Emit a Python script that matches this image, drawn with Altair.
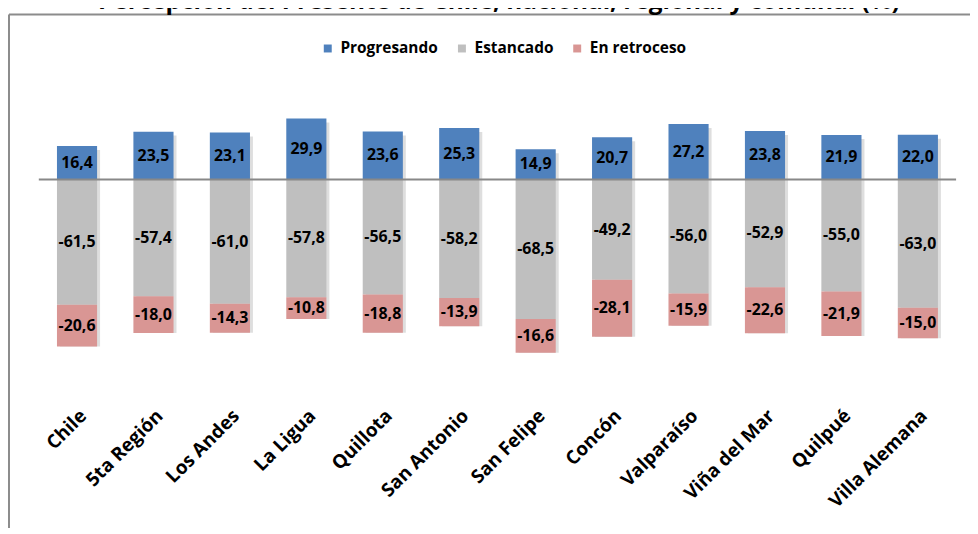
import altair as alt
import pandas as pd

regions = ["Chile", "5ta Región", "Los Andes", "La Ligua", "Quillota", "San Antonio",
           "San Felipe", "Concón", "Valparaíso", "Viña del Mar", "Quilpué", "Villa Alemana"]
progresando = [16.4, 23.5, 23.1, 29.9, 23.6, 25.3, 14.9, 20.7, 27.2, 23.8, 21.9, 22.0]
estancado = [-61.5, -57.4, -61.0, -57.8, -56.5, -58.2, -68.5, -49.2, -56.0, -52.9, -55.0, -63.0]
retroceso = [-20.6, -18.0, -14.3, -10.8, -18.8, -13.9, -16.6, -28.1, -15.9, -22.6, -21.9, -15.0]
series = ["Progresando", "Estancado", "En retroceso"]
colors = ["#4F81BD", "#BFBFBF", "#D99694"]
title_text = "Percepción del Presente de Chile, nacional, regional y comunal (%)"

rows = []
for i, r in enumerate(regions):
    for k, (s, vals) in enumerate(zip(series, [progresando, estancado, retroceso])):
        rows.append({"region": r, "serie": s, "orden": k, "valor": vals[i]})
df = pd.DataFrame(rows)

W, H = 923, 297
FONT = "Open Sans"

x = alt.X("region:N", sort=regions,
          scale=alt.Scale(paddingInner=0.475, paddingOuter=0.2375),
          axis=alt.Axis(title=None, labelAngle=-45, labelAlign="right", labelBaseline="top",
                        labelFont=FONT, labelFontSize=19, labelFontWeight="bold", labelColor="#000",
                        domain=False, ticks=False, tickSize=0, labelPadding=13, grid=False))
yscale = alt.Scale(domain=[-105, 40], nice=False, zero=False)

base = alt.Chart(df).transform_stack(
    stack="valor", groupby=["region"], as_=["v0", "v1"],
    sort=[alt.SortField("orden", order="ascending")], offset="zero"
).transform_calculate(
    mid="(datum.v0 + datum.v1) / 2",
    etiqueta="(datum.valor < 0 ? '-' : '') + replace(format(abs(datum.valor), '.1f'), '.', ',')"
)

shadow = alt.Chart(df).transform_calculate(
    pos="max(datum.valor, 0)", neg="min(datum.valor, 0)"
).transform_aggregate(
    top="sum(pos)", bot="sum(neg)", groupby=["region"]
).mark_bar(color="#000000", opacity=0.13, xOffset=3, yOffset=4).encode(
    x=x, y=alt.Y("top:Q", scale=yscale, axis=None), y2="bot:Q"
)

bars = base.mark_bar().encode(
    x=x,
    y=alt.Y("v0:Q", scale=yscale, axis=None),
    y2="v1:Q",
    color=alt.Color("serie:N", scale=alt.Scale(domain=series, range=colors),
                    legend=alt.Legend(title=None, orient="none", legendX=283, legendY=-58,
                                      direction="horizontal", symbolType="square", symbolSize=64,
                                      symbolStrokeWidth=0, labelFont=FONT, labelFontSize=15.5,
                                      labelFontWeight="bold", labelColor="#000",
                                      columnPadding=16, labelOffset=5, padding=0)),
)

labels = base.mark_text(font=FONT, fontSize=16, fontWeight="bold", color="#000").encode(
    x=x, y=alt.Y("mid:Q", scale=yscale, axis=None), text="etiqueta:N"
)

zero = alt.Chart(pd.DataFrame({"cero": [0]})).mark_rule(color="#888888", strokeWidth=2).encode(
    y=alt.Y("cero:Q", scale=yscale, axis=None)
)

one = pd.DataFrame({"a": [0]})
frame_left = alt.Chart(one).mark_rule(color="#8c8c8c", strokeWidth=2).encode(
    x=alt.value(-30), y=alt.value(-84), y2=alt.value(460))
frame_top = alt.Chart(one).mark_rule(color="#8c8c8c", strokeWidth=2).encode(
    x=alt.value(-30), x2=alt.value(950), y=alt.value(-84))

title = alt.Chart(pd.DataFrame({"t": [title_text]})).mark_text(
    font=FONT, fontSize=24.5, fontWeight="bold", color="#000", align="center", baseline="alphabetic"
).encode(x=alt.value(463), y=alt.value(-90), text="t:N")

chart = alt.layer(frame_left, frame_top, shadow, bars, zero, labels, title).properties(
    width=W, height=H,
    padding={"left": 31, "top": 89, "right": 14, "bottom": 134},
    autosize=alt.AutoSizeParams(type="none"),
).configure_view(stroke=None)

chart.save("out.html", embed_options={"renderer": "svg", "actions": False})
